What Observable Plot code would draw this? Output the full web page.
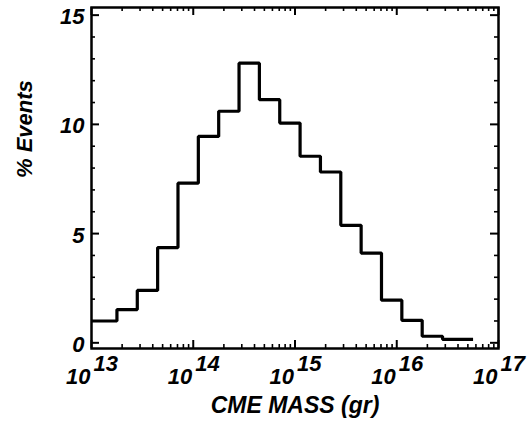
<!DOCTYPE html>
<html>
<head>
<meta charset="utf-8">
<script src="https://cdn.jsdelivr.net/npm/d3@7"></script>
<script src="https://cdn.jsdelivr.net/npm/@observablehq/plot@0.6"></script>
<style>
  html, body { margin: 0; padding: 0; background: #fff; }
</style>
</head>
<body>
<div id="chart"></div>
<script>
// CME mass distribution: bin edges in log10(mass / gr) and the share of events per bin
const binEdges = [13.0, 13.25, 13.45, 13.65, 13.85, 14.05, 14.25, 14.45, 14.65, 14.85,
                  15.05, 15.25, 15.45, 15.65, 15.85, 16.05, 16.25, 16.45, 16.75];
const percentEvents = [1.0, 1.52, 2.4, 4.36, 7.31, 9.45, 10.6, 12.8, 11.13, 10.06,
                       8.54, 7.82, 5.38, 4.11, 1.95, 1.03, 0.30, 0.16];

// Axis tick values
const decades = [13, 14, 15, 16, 17];
const yMajor = [0, 5, 10, 15];
const yMinor = [1, 2, 3, 4, 6, 7, 8, 9, 11, 12, 13, 14];

const width = 527, height = 423;
const margin = {top: 7, right: 29, bottom: 75, left: 91};
const frameW = width - margin.left - margin.right;
const frameH = height - margin.top - margin.bottom;

const xMajor = decades.map(d => 10 ** d);
const xMinor = decades.slice(0, -1).flatMap(d => d3.range(2, 10).map(k => k * 10 ** d));

// Step outline: each edge carries the value of the bin that starts there
const outline = binEdges.map((e, i) => ({
  mass: 10 ** e,
  pct: percentEvents[Math.min(i, percentEvents.length - 1)]
}));

const font = {fontFamily: "'Liberation Sans', Arial, Helvetica, sans-serif", fontWeight: "bold", fontStyle: "italic", fill: "black"};
const majorLen = 8, minorLen = 4;

const chart = Plot.plot({
  width, height,
  marginTop: margin.top, marginRight: margin.right,
  marginBottom: margin.bottom, marginLeft: margin.left,
  style: {background: "white", color: "black", overflow: "visible"},
  x: {type: "log", domain: [1e13, 1e17], axis: null},
  y: {domain: [-0.26, 15.35], axis: null},
  marks: [
    // inward ticks on all four sides
    Plot.tickX(xMajor, {x: d => d, insetTop: frameH - majorLen, stroke: "black", strokeWidth: 2}),
    Plot.tickX(xMajor, {x: d => d, insetBottom: frameH - majorLen, stroke: "black", strokeWidth: 2}),
    Plot.tickX(xMinor, {x: d => d, insetTop: frameH - minorLen, stroke: "black", strokeWidth: 1.6}),
    Plot.tickX(xMinor, {x: d => d, insetBottom: frameH - minorLen, stroke: "black", strokeWidth: 1.6}),
    Plot.tickY(yMajor, {y: d => d, insetRight: frameW - majorLen, stroke: "black", strokeWidth: 2}),
    Plot.tickY(yMajor, {y: d => d, insetLeft: frameW - majorLen, stroke: "black", strokeWidth: 2}),
    Plot.tickY(yMinor, {y: d => d, insetRight: frameW - minorLen, stroke: "black", strokeWidth: 1.6}),
    Plot.tickY(yMinor, {y: d => d, insetLeft: frameW - minorLen, stroke: "black", strokeWidth: 1.6}),

    // histogram outline
    Plot.line(outline, {x: "mass", y: "pct", curve: "step-after", stroke: "black", strokeWidth: 3.2, strokeLinejoin: "miter", strokeLinecap: "butt"}),

    Plot.frame({stroke: "black", strokeWidth: 2.5}),

    // y tick labels
    Plot.text(yMajor, {y: d => d, frameAnchor: "left", text: d => String(d), textAnchor: "end", lineAnchor: "middle", dx: -7, dy: 2, fontSize: 22, ...font}),

    // x tick labels: base "10" with raised exponent
    Plot.text(decades, {x: d => 10 ** d, frameAnchor: "bottom", text: () => "10", textAnchor: "end", lineAnchor: "bottom", dx: -1, dy: 35, fontSize: 22, ...font}),
    Plot.text(decades, {x: d => 10 ** d, frameAnchor: "bottom", text: d => String(d), textAnchor: "start", lineAnchor: "bottom", dx: 2, dy: 22, fontSize: 22, ...font}),

    // axis titles
    Plot.text(["CME MASS (gr)"], {frameAnchor: "bottom", text: d => d, lineAnchor: "bottom", dy: 64, fontSize: 23, ...font}),
    Plot.text(["% Events"], {frameAnchor: "left", text: d => d, rotate: -90, lineAnchor: "middle", dx: -67, fontSize: 22, ...font})
  ]
});

document.getElementById("chart").append(chart);
</script>
</body>
</html>
